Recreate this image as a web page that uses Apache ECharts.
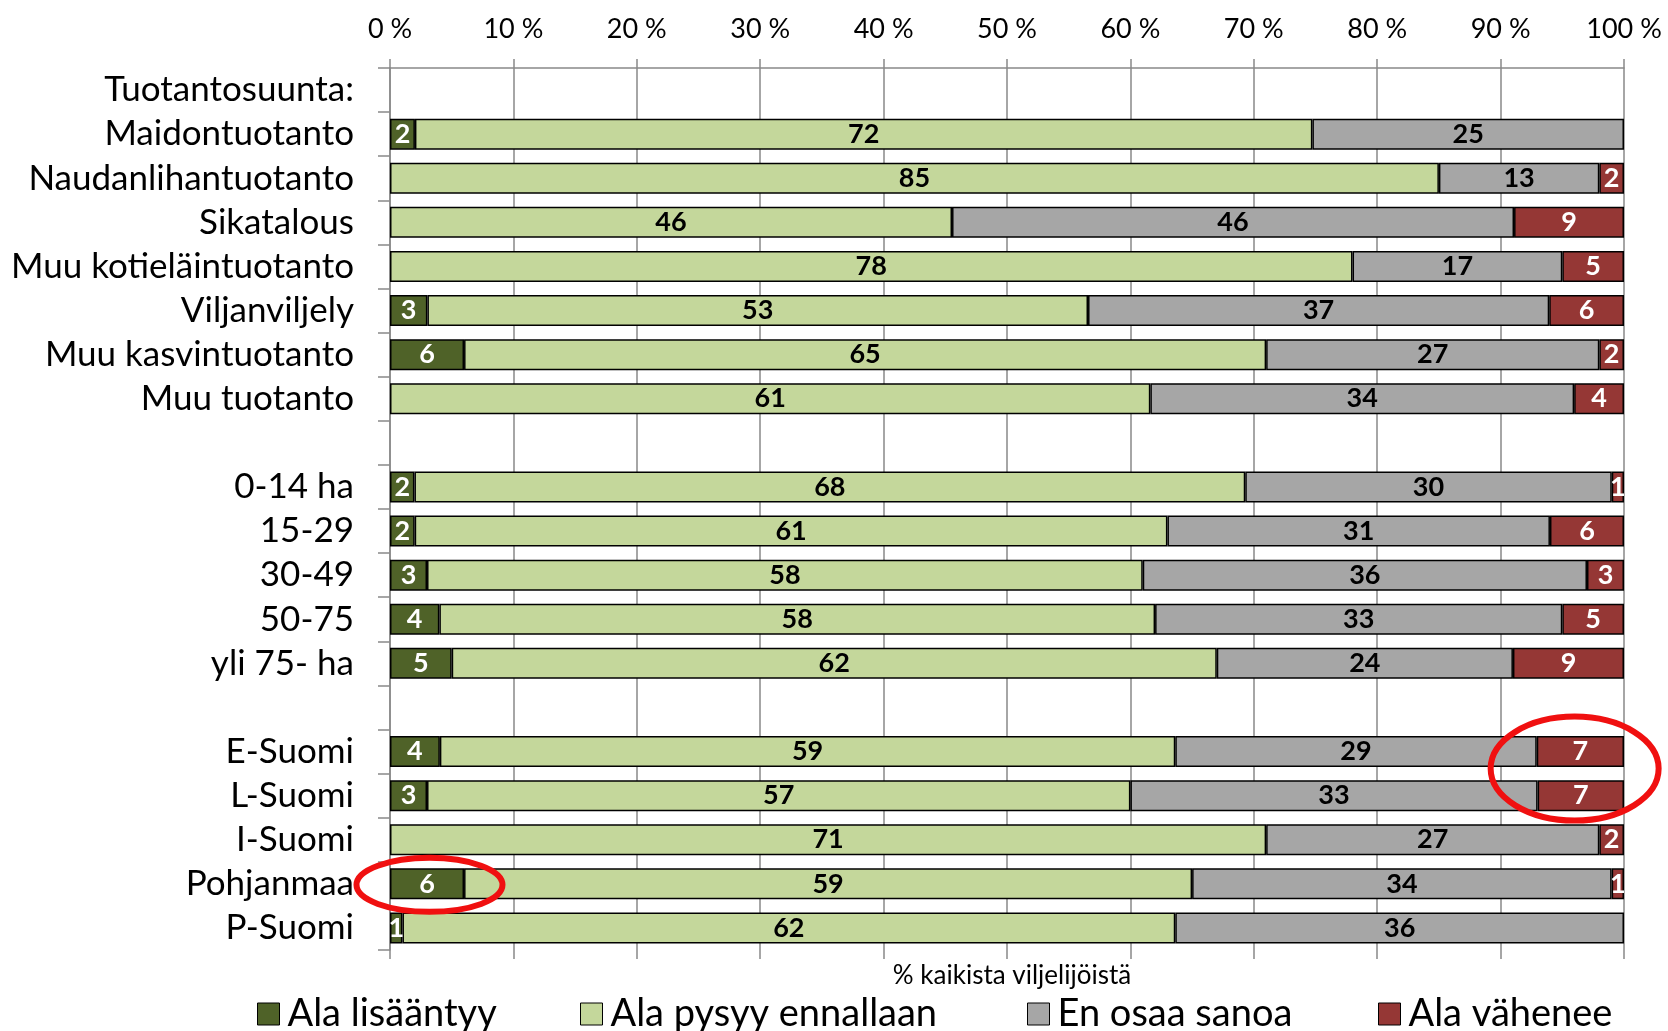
<!DOCTYPE html>
<html>
<head>
<meta charset="utf-8">
<script src="https://cdn.jsdelivr.net/npm/echarts@6/dist/echarts.min.js"></script>
<style>
html, body { margin: 0; padding: 0; background: #fff; }
#chart { width: 1668px; height: 1031px; }
</style>
</head>
<body>
<div id="chart"></div>
<script>
// rivit ylhäältä alas, tyhjät rivit erottavat ryhmät
const categories = [
  'Tuotantosuunta:', 'Maidontuotanto', 'Naudanlihantuotanto', 'Sikatalous',
  'Muu kotieläintuotanto', 'Viljanviljely', 'Muu kasvintuotanto', 'Muu tuotanto',
  ' ', '0-14 ha', '15-29', '30-49', '50-75', 'yli 75- ha',
  '  ', 'E-Suomi', 'L-Suomi', 'I-Suomi', 'Pohjanmaa', 'P-Suomi'
]
const seriesNames = ['Ala lisääntyy', 'Ala pysyy ennallaan', 'En osaa sanoa', 'Ala vähenee']
const alaLisaantyy = [null, 2, 0, 0, 0, 3, 6, 0, null, 2, 2, 3, 4, 5, null, 4, 3, 0, 6, 1]
const alaPysyy     = [null, 72, 85, 46, 78, 53, 65, 61, null, 68, 61, 58, 58, 62, null, 59, 57, 71, 59, 62]
const enOsaa       = [null, 25, 13, 46, 17, 37, 27, 34, null, 30, 31, 36, 33, 24, null, 29, 33, 27, 34, 36]
const alaVahenee   = [null, 0, 2, 9, 5, 6, 2, 4, null, 1, 6, 3, 5, 9, null, 7, 7, 2, 1, 0]
const xTicks = [0, 10, 20, 30, 40, 50, 60, 70, 80, 90, 100]

const raw = [alaLisaantyy, alaPysyy, enOsaa, alaVahenee]
const colors = ['#4f6228', '#c4d79b', '#a6a6a6', '#953735']
const labelColors = ['#fff', '#000', '#000', '#fff']
const legendLeft = [252, 575, 1022, 1373]
const gridColor = '#898989'

// 100 % pinottu: jokainen rivi skaalataan summaansa
const sums = categories.map((_, i) => raw.reduce((s, arr) => s + (arr[i] || 0), 0))

const chart = echarts.init(document.getElementById('chart'))

const series = raw.map((arr, k) => ({
  name: seriesNames[k],
  type: 'bar',
  stack: 'total',
  barWidth: 31,
  data: arr.map((v, i) => (v ? v / sums[i] * 100 : null)),
  itemStyle: { color: colors[k], borderColor: '#000', borderWidth: 1.5 },
  label: {
    show: true,
    position: 'inside',
    color: labelColors[k],
    fontFamily: 'Lato',
    fontWeight: 'bold',
    fontSize: 27,
    formatter: p => String(arr[p.dataIndex])
  },
  emphasis: { disabled: true },
  animation: false
}))

// jokainen selite omana osanaan, jotta kohdat osuvat kuvaan
const legends = seriesNames.map((name, k) => ({
  left: legendLeft[k],
  top: 990,
  itemWidth: 22,
  itemHeight: 22,
  itemGap: 0,
  icon: 'rect',
  itemStyle: { borderColor: '#000', borderWidth: 1 },
  textStyle: { fontFamily: 'Lato', fontSize: 38, color: '#000', padding: [0, 0, 0, 3] },
  selectedMode: false,
  data: [name]
}))

chart.setOption({
  backgroundColor: '#fff',
  animation: false,
  textStyle: { fontFamily: 'Lato' },
  grid: { left: 390, right: 44, top: 68, bottom: 81 },
  title: {
    text: '% kaikista viljelijöistä',
    left: 1007,
    top: 958,
    textAlign: 'center',
    textStyle: { fontFamily: 'Lato', fontSize: 26, fontWeight: 'normal', color: '#000' }
  },
  legend: legends,
  xAxis: [
    {
      type: 'value',
      position: 'top',
      min: xTicks[0],
      max: xTicks[xTicks.length - 1],
      interval: 10,
      axisLine: { show: true, lineStyle: { color: gridColor, width: 1.5 } },
      axisTick: { show: true, length: 9, lineStyle: { color: gridColor, width: 1.5 } },
      splitLine: { show: true, lineStyle: { color: gridColor, width: 1.5 } },
      axisLabel: { formatter: '{value} %', fontSize: 27, color: '#000', margin: 25, fontFamily: 'Lato' }
    },
    {
      type: 'value',
      position: 'bottom',
      min: xTicks[0],
      max: xTicks[xTicks.length - 1],
      interval: 10,
      axisLine: { show: false },
      axisTick: { show: true, length: 9, lineStyle: { color: gridColor, width: 1.5 } },
      splitLine: { show: false },
      axisLabel: { show: false }
    }
  ],
  yAxis: {
    type: 'category',
    inverse: true,
    data: categories,
    axisLine: { show: true, lineStyle: { color: gridColor, width: 1.5 } },
    axisTick: { show: true, length: 12, interval: 0, lineStyle: { color: gridColor, width: 1.5 } },
    axisLabel: { fontSize: 35, color: '#000', margin: 36, interval: 0, fontFamily: 'Lato' }
  },
  series
})

// punaiset korostusrenkaat arvojen kohdalle
const rowE = categories.indexOf('E-Suomi')
const rowL = categories.indexOf('L-Suomi')
const rowP = categories.indexOf('Pohjanmaa')
const pE = chart.convertToPixel({ gridIndex: 0 }, [96, rowE])
const pL = chart.convertToPixel({ gridIndex: 0 }, [96, rowL])
const pP = chart.convertToPixel({ gridIndex: 0 }, [3.2, rowP])
chart.setOption({
  graphic: [
    {
      type: 'ellipse',
      z: 100,
      shape: { cx: pE[0], cy: (pE[1] + pL[1]) / 2 - 5, rx: 84, ry: 52 },
      style: { fill: 'none', stroke: '#f01010', lineWidth: 6 }
    },
    {
      type: 'ellipse',
      z: 100,
      shape: { cx: pP[0], cy: pP[1] + 1, rx: 73, ry: 27 },
      style: { fill: 'none', stroke: '#f01010', lineWidth: 6 }
    }
  ]
})
</script>
</body>
</html>
